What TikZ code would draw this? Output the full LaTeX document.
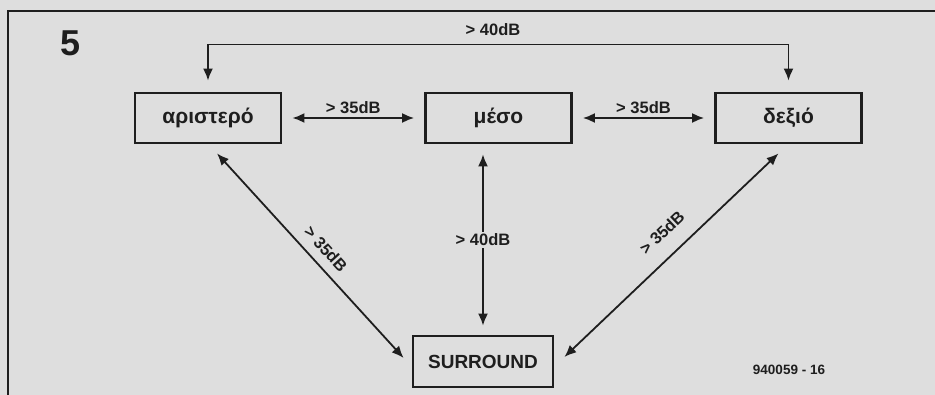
\documentclass[tikz,border=0pt]{standalone}
\usepackage{fontspec}
\setmainfont{Liberation Sans}
\usetikzlibrary{arrows.meta,calc}
\definecolor{paper}{RGB}{222,222,222}
\definecolor{ink}{RGB}{30,30,30}
\begin{document}
\begin{tikzpicture}[x=1pt,y=-1pt,
 box/.style={draw=ink,line width=2.8pt,minimum width=146pt,minimum height=50pt,inner sep=0pt,font=\fontsize{21}{24}\selectfont\bfseries,text=ink},
 con/.style={draw=ink,line width=1.8pt,{Latex[length=12pt,width=10pt]}-{Latex[length=12pt,width=10pt]}},
 lab/.style={font=\fontsize{16.5}{19}\selectfont\bfseries,text=ink,inner sep=2pt}]
\fill[paper] (0,0) rectangle (935,395);
\useasboundingbox (0,0) rectangle (935,395);
\draw[ink,line width=2.2pt] (8,395) -- (8,11) -- (935,11);
\node[font=\fontsize{36}{40}\selectfont\bfseries,text=ink] (five) at (71,43) {5};
\node[box] (L) at (208,118) {αριστερό};
\node[box] (M) at (498.5,118) {μέσο};
\node[box] (R) at (788.5,118) {δεξιό};
\node[box,minimum width=140pt,minimum height=51pt,font=\fontsize{19}{22}\selectfont\bfseries] (S) at (483,361.5) {SURROUND};
\draw[con] ([xshift=10pt]L.east) -- node[lab,above=1pt] (lm) {> 35dB} ([xshift=-10pt]M.west);
\draw[con] ([xshift=10pt]M.east) -- node[lab,above=1pt] (mr) {> 35dB} ([xshift=-10pt]R.west);
\draw[con] ([yshift=11pt]L.north) -- ++(0,-36) -| ([yshift=11pt]R.north);
\node[lab] (lr) at (493,30) {> 40dB};
\draw[con] ($(S.north |- M.south)+(0,10)$) -- node[lab,fill=paper] (ms) {> 40dB} ($(S.north)+(0,-9)$);
\draw[con] ($(L.south)+(9,9)$) -- node[lab,sloped,above=7pt,pos=0.52] (ls) {> 35dB} ($(S.west)+(-8,-3.5)$);
\draw[con] ($(S.east)+(10,-4.5)$) -- node[lab,sloped,above=14pt,pos=0.53] (rs) {> 35dB} ($(R.south)+(-10,9)$);
\node[font=\fontsize{13.5}{16}\selectfont\bfseries,text=ink] (code) at (789,370) {940059 - 16};
\end{tikzpicture}
\end{document}
